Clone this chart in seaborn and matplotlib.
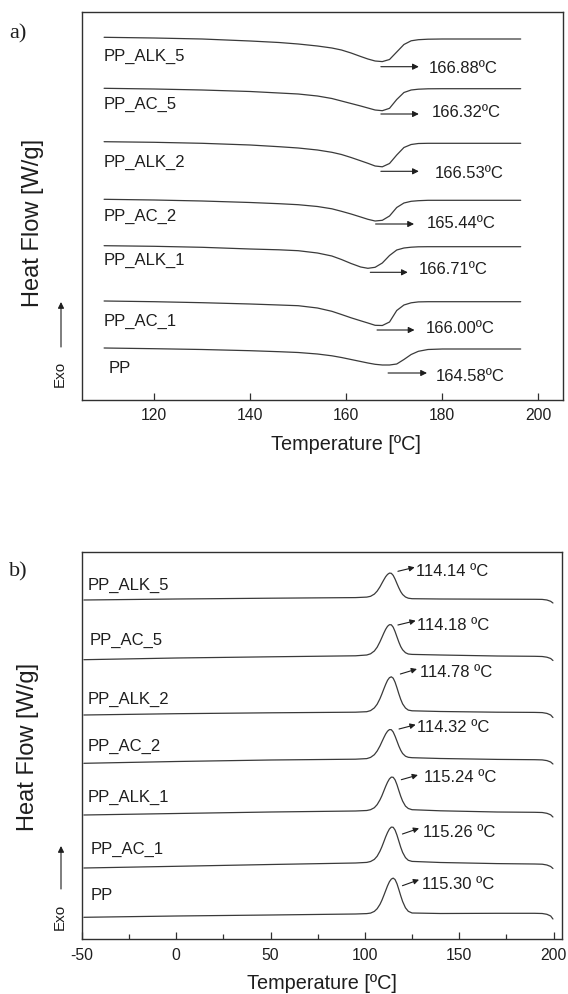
import matplotlib
matplotlib.use("Agg")
import matplotlib.pyplot as plt
from matplotlib.ticker import MultipleLocator
import seaborn as sns

SAMPLES = ["PP_ALK_5", "PP_AC_5", "PP_ALK_2", "PP_AC_2", "PP_ALK_1", "PP_AC_1", "PP"]

# a) melting scans, heat flow [W/g] with the stacking offset already in
T_MELT = [109.6, 120, 130, 140, 146, 150, 154, 157, 159, 161, 163, 164.5,
          166, 167.5, 169, 170.5, 172, 173.5, 175, 177, 180, 185, 190, 196.3]
MELT_ALK_5 = [3.624, 3.617, 3.607, 3.587, 3.572, 3.557, 3.537, 3.517, 3.497, 3.467, 3.432, 3.407,
              3.387, 3.381, 3.402, 3.477, 3.552, 3.589, 3.600, 3.605, 3.607, 3.607, 3.607, 3.607]
MELT_AC_5 = [3.114, 3.107, 3.097, 3.082, 3.067, 3.057, 3.037, 3.012, 2.987, 2.962, 2.937, 2.917,
             2.897, 2.890, 2.914, 3.002, 3.072, 3.097, 3.105, 3.109, 3.110, 3.110, 3.110, 3.110]
MELT_ALK_2 = [2.580, 2.574, 2.564, 2.547, 2.530, 2.517, 2.497, 2.474, 2.452, 2.422, 2.389, 2.364,
              2.337, 2.329, 2.362, 2.447, 2.522, 2.552, 2.562, 2.564, 2.564, 2.564, 2.564, 2.564]
MELT_AC_2 = [2.004, 1.997, 1.987, 1.972, 1.960, 1.950, 1.932, 1.909, 1.884, 1.857, 1.827, 1.804,
             1.787, 1.794, 1.837, 1.922, 1.967, 1.984, 1.990, 1.994, 1.994, 1.994, 1.994, 1.994]
MELT_ALK_1 = [1.540, 1.534, 1.524, 1.507, 1.499, 1.490, 1.467, 1.437, 1.402, 1.362, 1.327, 1.314,
              1.324, 1.367, 1.442, 1.497, 1.517, 1.525, 1.529, 1.530, 1.530, 1.530, 1.530, 1.530]
MELT_AC_1 = [0.987, 0.980, 0.970, 0.957, 0.947, 0.940, 0.917, 0.884, 0.852, 0.819, 0.789, 0.767,
             0.744, 0.742, 0.777, 0.892, 0.947, 0.969, 0.978, 0.980, 0.980, 0.980, 0.980, 0.980]
MELT_PP = [0.517, 0.510, 0.502, 0.490, 0.480, 0.472, 0.457, 0.439, 0.422, 0.402, 0.382, 0.367,
           0.354, 0.347, 0.347, 0.357, 0.402, 0.452, 0.484, 0.502, 0.507, 0.507, 0.507, 0.507]
TM_LABELS = ["166.88ºC", "166.32ºC", "166.53ºC", "165.44ºC", "166.71ºC", "166.00ºC", "164.58ºC"]

# b) cooling scans
T_CRYST = [-49, 0, 50, 95, 101, 103, 105, 106.5, 108, 109, 110, 111, 112, 113, 114, 115, 116,
           117, 118, 119, 120, 121.5, 123, 125, 140, 170, 190, 194, 196.5, 198.5, 199.7]
CRYST_ALK_5 = [3.390, 3.400, 3.408, 3.414, 3.419, 3.427, 3.449, 3.479, 3.522, 3.557, 3.591, 3.623,
               3.646, 3.659, 3.657, 3.636, 3.599, 3.554, 3.511, 3.473, 3.445, 3.420, 3.408, 3.403,
               3.400, 3.398, 3.397, 3.396, 3.390, 3.377, 3.360]
CRYST_AC_5 = [2.793, 2.810, 2.822, 2.832, 2.840, 2.852, 2.880, 2.918, 2.973, 3.015, 3.058, 3.097,
              3.127, 3.143, 3.142, 3.118, 3.074, 3.021, 2.969, 2.924, 2.892, 2.863, 2.850, 2.846,
              2.840, 2.830, 2.827, 2.825, 2.818, 2.805, 2.785]
CRYST_ALK_2 = [2.240, 2.253, 2.262, 2.268, 2.273, 2.284, 2.311, 2.348, 2.404, 2.450, 2.499, 2.546,
               2.587, 2.613, 2.622, 2.608, 2.568, 2.512, 2.451, 2.396, 2.351, 2.310, 2.289, 2.282,
               2.275, 2.268, 2.266, 2.264, 2.256, 2.240, 2.215]
CRYST_AC_2 = [1.757, 1.775, 1.790, 1.798, 1.804, 1.816, 1.843, 1.880, 1.931, 1.972, 2.012, 2.050,
              2.078, 2.094, 2.093, 2.070, 2.028, 1.979, 1.929, 1.887, 1.855, 1.828, 1.817, 1.813,
              1.805, 1.796, 1.793, 1.791, 1.784, 1.770, 1.750]
CRYST_ALK_1 = [1.240, 1.255, 1.270, 1.280, 1.285, 1.293, 1.313, 1.344, 1.392, 1.432, 1.479, 1.526,
               1.568, 1.601, 1.619, 1.617, 1.591, 1.543, 1.484, 1.427, 1.379, 1.329, 1.305, 1.293,
               1.282, 1.270, 1.267, 1.265, 1.257, 1.242, 1.220]
CRYST_AC_1 = [0.710, 0.727, 0.745, 0.760, 0.766, 0.775, 0.796, 0.828, 0.879, 0.922, 0.971, 1.021,
              1.065, 1.100, 1.119, 1.117, 1.089, 1.039, 0.978, 0.917, 0.866, 0.814, 0.787, 0.776,
              0.765, 0.754, 0.750, 0.748, 0.740, 0.725, 0.705]
CRYST_PP = [0.217, 0.230, 0.240, 0.250, 0.254, 0.259, 0.276, 0.303, 0.347, 0.387, 0.434, 0.483,
            0.532, 0.573, 0.599, 0.609, 0.594, 0.553, 0.494, 0.432, 0.375, 0.312, 0.277, 0.260,
            0.255, 0.257, 0.257, 0.255, 0.247, 0.230, 0.200]
TC_LABELS = ["114.14 ºC", "114.18 ºC", "114.78 ºC", "114.32 ºC", "115.24 ºC", "115.26 ºC", "115.30 ºC"]

# where the annotations sit (data coords)
MELT_NAME_POS = [(109.6, 3.447), (109.4, 2.967), (109.6, 2.384), (109.6, 1.840),
                 (109.4, 1.400), (109.6, 0.790), (110.6, 0.324)]
MELT_ARROWS = [(167.2, 175.1, 3.330), (167.2, 175.1, 2.857), (167.2, 175.1, 2.284),
               (166.1, 174.1, 1.757), (165.0, 172.8, 1.274), (166.4, 174.2, 0.697),
               (168.7, 176.8, 0.267)]
MELT_TEXT_POS = [(177.1, 3.324), (177.7, 2.880), (178.4, 2.274), (176.7, 1.767),
                 (175.1, 1.307), (176.5, 0.724), (178.7, 0.240)]
CRYST_NAME_POS = [(-47.0, 3.543), (-46.0, 3.00), (-47.0, 2.41), (-47.0, 1.933),
                  (-47.0, 1.423), (-45.6, 0.907), (-45.6, 0.44)]
CRYST_ARROWS = [((117.5, 3.677), (126.4, 3.717)), ((117.5, 3.14), (126.9, 3.183)),
                ((118.8, 2.65), (127.6, 2.70)), ((118.1, 2.10), (126.9, 2.143)),
                ((119.3, 1.593), (128.1, 1.64)), ((119.9, 1.05), (128.7, 1.107)),
                ((119.9, 0.533), (128.7, 0.593))]
CRYST_TEXT_POS = [(126.9, 3.69), (127.6, 3.15), (129.4, 2.673), (127.6, 2.127),
                  (131.1, 1.627), (130.8, 1.073), (130.5, 0.55)]

melt = dict(zip(SAMPLES, [MELT_ALK_5, MELT_AC_5, MELT_ALK_2, MELT_AC_2, MELT_ALK_1, MELT_AC_1, MELT_PP]))
cryst = dict(zip(SAMPLES, [CRYST_ALK_5, CRYST_AC_5, CRYST_ALK_2, CRYST_AC_2, CRYST_ALK_1, CRYST_AC_1, CRYST_PP]))

sns.set_theme(style="white")
plt.rcParams["font.family"] = ["Liberation Sans", "DejaVu Sans"]
plt.rcParams["axes.unicode_minus"] = False

INK = "#1e1e1e"
LINE = "#3a3a3a"
FRAME = "#303030"
W, H = 568, 995

fig = plt.figure(figsize=(5.68, 9.95), dpi=100)


def px_axes(x0, y0, x1, y1):
    return fig.add_axes([x0 / W, 1 - y1 / H, (x1 - x0) / W, (y1 - y0) / H])


def fig_text(x, y, s, **kw):
    fig.text(x / W, 1 - y / H, s, **kw)


def exo_arrow(y_tail, y_head, y_text):
    fig_text(59.8, y_text, "Exo", rotation=90, ha="center", va="center", fontsize=11, color=INK)
    fig.axes[0].annotate("", xy=(61 / W, 1 - y_head / H), xytext=(61 / W, 1 - y_tail / H),
                         xycoords="figure fraction", textcoords="figure fraction",
                         arrowprops=dict(arrowstyle="-|>", color=INK, lw=0.8,
                                         mutation_scale=9, shrinkA=0, shrinkB=0),
                         annotation_clip=False)


ax_a = px_axes(82, 12.7, 562.5, 400.7)
ax_b = px_axes(82, 552.7, 562, 940)

for name in SAMPLES:
    sns.lineplot(x=T_MELT, y=melt[name], ax=ax_a, color=LINE, lw=0.9, sort=False, estimator=None)
    sns.lineplot(x=T_CRYST, y=cryst[name], ax=ax_b, color=LINE, lw=0.9, sort=False, estimator=None)

for ax in (ax_a, ax_b):
    ax.set_yticks([])
    ax.set_xlabel("")
    ax.set_ylabel("")
    for s in ax.spines.values():
        s.set_visible(True)
        s.set_color(FRAME)
        s.set_linewidth(1.0)
    ax.tick_params(axis="x", which="major", bottom=True, direction="in", length=5.2, width=0.9,
                   color=FRAME, labelsize=11.3, labelcolor=INK)

ax_a.set_xlim(105, 205)
ax_a.set_ylim(0, 3.88)
ax_a.set_xticks([120, 140, 160, 180, 200])
ax_a.tick_params(axis="x", pad=5.0)

ax_b.set_xlim(-50, 204.5)
ax_b.set_ylim(0, 3.873)
ax_b.set_xticks([-50, 0, 50, 100, 150, 200])
ax_b.xaxis.set_minor_locator(MultipleLocator(25))
ax_b.tick_params(axis="x", which="minor", bottom=True, direction="in", length=3.6, width=0.9, color=FRAME)
ax_b.tick_params(axis="x", pad=6.0)

arrow_kw = dict(arrowstyle="-|>", color=INK, lw=0.8, shrinkA=0, shrinkB=0)

for i, name in enumerate(SAMPLES):
    x, y = MELT_NAME_POS[i]
    ax_a.text(x, y, name, ha="left", va="center", fontsize=12, color=INK)
    x0, x1, ya = MELT_ARROWS[i]
    ax_a.annotate("", xy=(x1, ya), xytext=(x0, ya), arrowprops=dict(mutation_scale=9, **arrow_kw))
    x, y = MELT_TEXT_POS[i]
    ax_a.text(x, y, TM_LABELS[i], ha="left", va="center", fontsize=12, color=INK)

    x, y = CRYST_NAME_POS[i]
    ax_b.text(x, y, name, ha="left", va="center", fontsize=12, color=INK)
    tail, head = CRYST_ARROWS[i]
    ax_b.annotate("", xy=head, xytext=tail, arrowprops=dict(mutation_scale=8, **arrow_kw))
    x, y = CRYST_TEXT_POS[i]
    ax_b.text(x, y, TC_LABELS[i], ha="left", va="center", fontsize=12, color=INK)

# panel letters, axis titles, Exo markers
fig_text(18, 34, "a)", ha="center", va="center", fontsize=16, family="Liberation Serif", color=INK)
fig_text(18, 572, "b)", ha="center", va="center", fontsize=16, family="Liberation Serif", color=INK)
fig_text(33, 223, "Heat Flow [W/g]", rotation=90, ha="center", va="center", fontsize=17, color=INK)
fig_text(28, 747, "Heat Flow [W/g]", rotation=90, ha="center", va="center", fontsize=17, color=INK)
fig_text(346, 445, "Temperature [ºC]", ha="center", va="center", fontsize=14.3, color=INK)
fig_text(321.5, 984, "Temperature [ºC]", ha="center", va="center", fontsize=14.3, color=INK)
exo_arrow(348, 303, 374)
exo_arrow(890, 847, 916.5)

fig.savefig("out.png", dpi=100)
